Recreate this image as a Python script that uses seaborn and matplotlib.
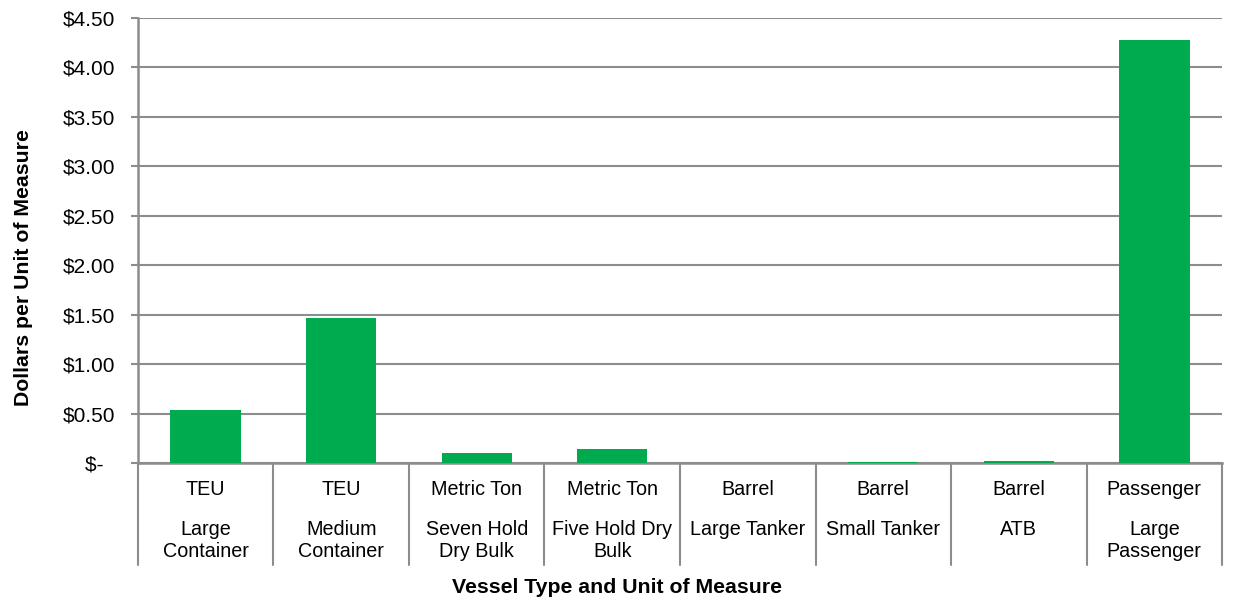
import numpy as np
import pandas as pd
import matplotlib
matplotlib.use("Agg")
import matplotlib.pyplot as plt
import matplotlib.transforms as mtransforms
import seaborn as sns

# Chart data
vessel_types = ["Large\nContainer", "Medium\nContainer", "Seven Hold\nDry Bulk",
                "Five Hold Dry\nBulk", "Large Tanker", "Small Tanker", "ATB",
                "Large\nPassenger"]
units = ["TEU", "TEU", "Metric Ton", "Metric Ton", "Barrel", "Barrel", "Barrel",
         "Passenger"]
cost_per_unit = [0.54, 1.47, 0.10, 0.14, 0.004, 0.006, 0.02, 4.28]
y_ticks = [0, 0.5, 1.0, 1.5, 2.0, 2.5, 3.0, 3.5, 4.0, 4.5]
y_tick_labels = ["$-  ", "$0.50", "$1.00", "$1.50", "$2.00", "$2.50", "$3.00",
                 "$3.50", "$4.00", "$4.50"]

df = pd.DataFrame({"vessel": vessel_types, "unit": units, "cost": cost_per_unit})

sns.set_theme(style="white")
plt.rcParams["font.family"] = ["Liberation Sans", "DejaVu Sans"]
plt.rcParams["text.color"] = "black"
plt.rcParams["ytick.labelcolor"] = "black"

grid_color = "#8c8c8c"
fig = plt.figure(figsize=(12.34, 6.01), dpi=100)
ax = fig.add_axes([0.1118, 0.2296, 0.8785, 0.7404])

sns.barplot(data=df, x="vessel", y="cost", color="#00AA4F", saturation=1,
            width=0.52, ax=ax, zorder=3, linewidth=0)

ax.set_ylim(0, 4.5)
ax.set_xlim(-0.5, len(vessel_types) - 0.5)
ax.set_yticks(y_ticks)
ax.set_yticklabels(y_tick_labels, fontsize=15, color="black")
ax.set_xticks([])
ax.set_xlabel("")
ax.set_ylabel("")
ax.yaxis.grid(True, color=grid_color, linewidth=1.5, zorder=0)
ax.set_axisbelow(True)
ax.tick_params(axis="y", length=5, width=1.5, color=grid_color, pad=11.5, left=True)

for side in ["top", "right"]:
    ax.spines[side].set_visible(False)
for side in ["left", "bottom"]:
    ax.spines[side].set_color(grid_color)
    ax.spines[side].set_linewidth(1.8)

# two-level category labels beneath the axis
trans = mtransforms.blended_transform_factory(ax.transData, ax.transAxes)
for i in range(len(vessel_types) + 1):
    ax.plot([i - 0.5, i - 0.5], [0, -0.229], transform=trans, color=grid_color,
            linewidth=1.5, clip_on=False)
for i, row in df.iterrows():
    ax.text(i, -0.060, row["unit"], transform=trans, ha="center", va="center",
            fontsize=14.2, color="black")
    ax.text(i, -0.128, row["vessel"], transform=trans, ha="center", va="top",
            fontsize=14.2, linespacing=1.2, color="black")

fig.text(0.5, 0.022, "Vessel Type and Unit of Measure", ha="center",
         va="center", fontsize=15.3, fontweight="bold", color="black")
fig.text(0.019, 0.555, "Dollars per Unit of Measure", ha="center", va="center",
         rotation=90, fontsize=15.3, fontweight="bold", color="black")

fig.savefig("out.png", dpi=100)
